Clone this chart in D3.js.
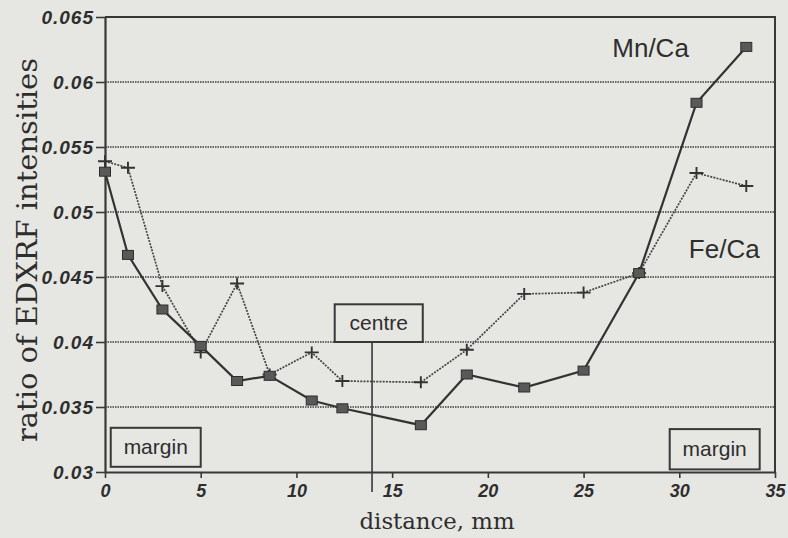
<!DOCTYPE html>
<html>
<head>
<meta charset="utf-8">
<script src="https://cdn.jsdelivr.net/npm/d3@7"></script>
<style>
  body { margin: 0; background: #e6e6e2; }
  svg { display: block; }
</style>
</head>
<body>
<svg id="chart"></svg>
<script>
// distance along the concretion (mm), shared by both series
var distance = [0, 1.2, 3.0, 5.0, 6.9, 8.6, 10.8, 12.4, 16.5, 18.9, 21.9, 25.0, 27.9, 30.9, 33.5]
var mnCa = [0.0531, 0.0467, 0.0425, 0.0397, 0.0370, 0.0374, 0.0355, 0.0349, 0.0336, 0.0375, 0.0365, 0.0378, 0.0453, 0.0584, 0.0627]
var feCa = [0.0539, 0.0534, 0.0443, 0.0392, 0.0445, 0.0375, 0.0392, 0.0370, 0.0369, 0.0394, 0.0437, 0.0438, 0.0453, 0.0530, 0.0520]

var xTicks = [0, 5, 10, 15, 20, 25, 30, 35]
var yTicks = [0.03, 0.035, 0.04, 0.045, 0.05, 0.055, 0.06, 0.065]
var yTickLabels = ["0.03", "0.035", "0.04", "0.045", "0.05", "0.055", "0.06", "0.065"]

var dimensions = {
    width: 788,
    height: 538,
    margin: { top: 17, bottom: 66, right: 13, left: 105 }
}

var ink = "#383838"

var svg = d3.select("#chart")
    .attr("width", dimensions.width)
    .attr("height", dimensions.height)

svg.append("rect")
    .attr("width", dimensions.width)
    .attr("height", dimensions.height)
    .attr("fill", "#e6e6e2")

var xScale = d3.scaleLinear()
    .domain([0, 35])
    .range([dimensions.margin.left, dimensions.width - dimensions.margin.right])

var yScale = d3.scaleLinear()
    .domain([0.03, 0.065])
    .range([dimensions.height - dimensions.margin.bottom, dimensions.margin.top])

// dotted gridlines
svg.append("g")
    .selectAll("line")
    .data(yTicks.slice(1, -1))
    .join("line")
    .attr("x1", xScale(0))
    .attr("x2", xScale(35))
    .attr("y1", d => yScale(d))
    .attr("y2", d => yScale(d))
    .attr("stroke", "#3c3c3c")
    .attr("stroke-width", 1.6)
    .attr("stroke-dasharray", "1.5,1")

// frame: top and right
svg.append("path")
    .attr("d", `M${xScale(0)},${yScale(0.065)}H${xScale(35)}V${yScale(0.03)}`)
    .attr("fill", "none")
    .attr("stroke", ink)
    .attr("stroke-width", 2)

var xAxisgen = d3.axisBottom(xScale).tickValues(xTicks).tickSize(6).tickSizeOuter(0)
var yAxisgen = d3.axisLeft(yScale).tickValues(yTicks).tickSize(9).tickSizeOuter(0)
    .tickFormat((d, i) => yTickLabels[i])

var xAxis = svg.append("g")
    .attr("transform", `translate(0,${yScale(0.03)})`)
    .call(xAxisgen)
xAxis.select(".domain").attr("stroke", ink).attr("stroke-width", 2.2)
xAxis.selectAll(".tick line").attr("stroke", ink).attr("stroke-width", 1.6)
xAxis.selectAll("text")
    .attr("fill", "#2e2e2e")
    .attr("y", 12)
    .style("font-family", "Liberation Sans, Arial, sans-serif")
    .style("font-weight", "bold")
    .style("font-style", "italic")
    .style("font-size", "18px")

var yAxis = svg.append("g")
    .attr("transform", `translate(${xScale(0)},0)`)
    .call(yAxisgen)
yAxis.select(".domain").attr("stroke", ink).attr("stroke-width", 2.2)
yAxis.selectAll(".tick line").attr("stroke", ink).attr("stroke-width", 1.6)
yAxis.selectAll("text")
    .attr("fill", "#2e2e2e")
    .attr("x", -11)
    .style("font-family", "Liberation Sans, Arial, sans-serif")
    .style("font-weight", "bold")
    .style("font-style", "italic")
    .style("font-size", "19px")
    .style("letter-spacing", "1px")

// axis titles
svg.append("text")
    .attr("transform", "translate(37,250) rotate(-90)")
    .attr("text-anchor", "middle")
    .attr("fill", "#2e2e2e")
    .style("font-family", "DejaVu Serif, serif")
    .style("font-size", "28px")
    .attr("textLength", 384)
    .attr("lengthAdjust", "spacingAndGlyphs")
    .text("ratio of EDXRF intensities")

svg.append("text")
    .attr("x", 437)
    .attr("y", 529)
    .attr("text-anchor", "middle")
    .attr("fill", "#2e2e2e")
    .style("font-family", "DejaVu Serif, serif")
    .style("font-size", "23px")
    .attr("textLength", 155)
    .attr("lengthAdjust", "spacingAndGlyphs")
    .text("distance, mm")

var mnPoints = distance.map((d, i) => ({ x: d, y: mnCa[i] }))
var fePoints = distance.map((d, i) => ({ x: d, y: feCa[i] }))

var line = d3.line()
    .x(d => xScale(d.x))
    .y(d => yScale(d.y))

// Fe/Ca dotted with crosses
svg.append("path")
    .datum(fePoints)
    .attr("d", line)
    .attr("fill", "none")
    .attr("stroke", "#444")
    .attr("stroke-width", 1.7)
    .attr("stroke-dasharray", "2,1.2")

svg.append("g")
    .selectAll("path")
    .data(fePoints)
    .join("path")
    .attr("d", d => {
        var cx = xScale(d.x), cy = yScale(d.y)
        return `M${cx - 7},${cy}H${cx + 7}M${cx},${cy - 6}V${cy + 6}`
    })
    .attr("stroke", "#333")
    .attr("stroke-width", 1.9)

// Mn/Ca solid with squares
svg.append("path")
    .datum(mnPoints)
    .attr("d", line)
    .attr("fill", "none")
    .attr("stroke", "#333")
    .attr("stroke-width", 2.2)

svg.append("g")
    .selectAll("rect")
    .data(mnPoints)
    .join("rect")
    .attr("x", d => xScale(d.x) - 5.5)
    .attr("y", d => yScale(d.y) - 4.5)
    .attr("width", 11)
    .attr("height", 9)
    .attr("fill", "#595959")
    .attr("stroke", "#2e2e2e")
    .attr("stroke-width", 1)

// series labels
svg.append("text")
    .attr("x", xScale(26.5))
    .attr("y", yScale(0.0619))
    .attr("fill", "#2e2e2e")
    .style("font-family", "Liberation Sans, Arial, sans-serif")
    .style("font-size", "26px")
    .text("Mn/Ca")

svg.append("text")
    .attr("x", xScale(30.5))
    .attr("y", yScale(0.0465))
    .attr("fill", "#2e2e2e")
    .style("font-family", "Liberation Sans, Arial, sans-serif")
    .style("font-size", "26px")
    .text("Fe/Ca")

// boxed annotations
function boxLabel(x0, x1, y0, y1, label) {
    var g = svg.append("g")
    g.append("rect")
        .attr("x", xScale(x0))
        .attr("y", yScale(y1))
        .attr("width", xScale(x1) - xScale(x0))
        .attr("height", yScale(y0) - yScale(y1))
        .attr("fill", "#e6e6e2")
        .attr("stroke", ink)
        .attr("stroke-width", 2)
    g.append("text")
        .attr("x", (xScale(x0) + xScale(x1)) / 2)
        .attr("y", (yScale(y0) + yScale(y1)) / 2 + 7)
        .attr("text-anchor", "middle")
        .attr("fill", "#2e2e2e")
        .style("font-family", "Liberation Sans, Arial, sans-serif")
        .style("font-size", "21px")
        .text(label)
}

// centre marker line
svg.append("line")
    .attr("x1", xScale(13.95))
    .attr("x2", xScale(13.95))
    .attr("y1", yScale(0.04))
    .attr("y2", yScale(0.03) + 20)
    .attr("stroke", ink)
    .attr("stroke-width", 1.6)

boxLabel(12.0, 16.6, 0.04, 0.0429, "centre")
boxLabel(0.3, 5.0, 0.0304, 0.0334, "margin")
boxLabel(29.5, 34.2, 0.0302, 0.0333, "margin")
</script>
</body>
</html>
